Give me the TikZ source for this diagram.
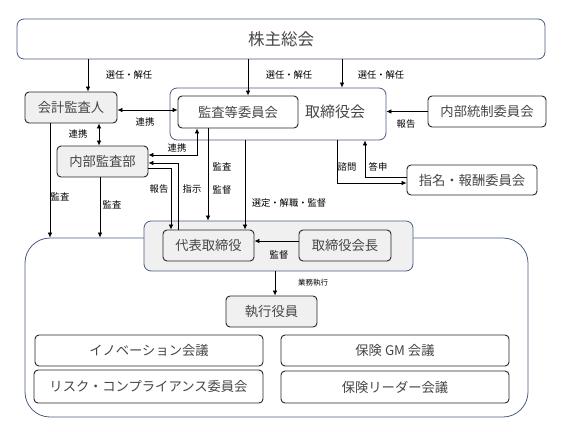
\documentclass[tikz,border=0pt]{standalone}
\usepackage{fontspec}
\setmainfont{Noto Sans CJK JP}
\usetikzlibrary{arrows.meta}
\definecolor{frameblue}{RGB}{76,92,130}
\definecolor{boxgray}{RGB}{240,240,240}
\definecolor{txtgray}{RGB}{70,70,70}
\tikzset{
  box/.style={draw=black!85, line width=0.9pt, rounded corners=4pt, fill=white,
    text=txtgray, inner sep=0pt, font=\fontsize{13.3}{13.3}\selectfont},
  graybox/.style={box, fill=boxgray},
  frame/.style={draw=frameblue, line width=0.8pt, rounded corners=7pt, fill=white, inner sep=0pt},
  lbl/.style={font=\fontsize{9.3}{9.3}\selectfont, inner sep=0pt},
  >={Latex[length=5pt,width=4.5pt]}
}
\begin{document}
\begin{tikzpicture}[x=1pt,y=-1pt,line width=0.7pt]
  \useasboundingbox (0,0) rectangle (567,431);
  % top level
  \node[frame, minimum width=528, minimum height=40, text=txtgray, font=\fontsize{16.5}{16.5}\selectfont] (share) at (281,39) {株主総会};
  \node[graybox, minimum width=92, minimum height=31] (accnt) at (71,107.5) {会計監査人};
  \node[frame, minimum width=216, minimum height=52] (board) at (278,114) {};
  \node[text=txtgray, font=\fontsize{15}{15}\selectfont] (boardtxt) at (335,112) {取締役会};
  \node[box, minimum width=120, minimum height=32] (audit) at (238,112) {監査等委員会};
  \node[box, minimum width=118, minimum height=31] (ictrl) at (487,111.5) {内部統制委員会};
  \node[graybox, minimum width=91, minimum height=31] (intaud) at (102.5,161.5) {内部監査部};
  \node[box, minimum width=130, minimum height=30] (nomin) at (472,180) {指名・報酬委員会};
  % execution side
  \node[frame, rounded corners=25pt, minimum width=503, minimum height=179] (exec) at (276.5,327.5) {};
  \node[frame, fill=boxgray, minimum width=269, minimum height=50] (rep) at (278.5,246) {};
  \node[graybox, minimum width=91, minimum height=31] (ceo) at (208.5,245.5) {代表取締役};
  \node[graybox, minimum width=92, minimum height=31] (chair) at (345,245.5) {取締役会長};
  \node[graybox, minimum width=91, minimum height=31] (offc) at (271.5,311.5) {執行役員};
  \node[box, minimum width=228, minimum height=31] (innov) at (149,350.5) {イノベーション会議};
  \node[box, minimum width=229, minimum height=33] (risk) at (148.5,386.5) {リスク・コンプライアンス委員会};
  \node[box, minimum width=228, minimum height=31] (gm) at (395,350.5) {保険 GM 会議};
  \node[box, minimum width=228, minimum height=32] (leader) at (395,387) {保険リーダー会議};

  % from the shareholders
  \draw[->] ([xshift=17pt]accnt.north |- share.south) -- ([xshift=17pt]accnt.north);
  \draw[->] ([xshift=10pt]audit.north |- share.south) -- ([xshift=10pt]audit.north);
  \draw[->] ([xshift=64pt]board.north |- share.south) -- ([xshift=64pt]board.north);
  \node[lbl] (sel1) at (129,75) {選任・解任};
  \node[lbl] (sel2) at (289,75) {選任・解任};
  \node[lbl] (sel3) at (381,75) {選任・解任};

  % around the board
  \draw[->] (ictrl.west) -- (ictrl.west -| board.east);
  \node[lbl] (rep1) at (406,124) {報告};
  \draw[<->] ([yshift=-2.5pt]accnt.east) -- ([yshift=-2.5pt]accnt.east -| audit.west);
  \node[lbl] (coop1) at (145,122) {連携};
  \draw[<->] ([xshift=28pt]accnt.south) -- ([xshift=28pt]accnt.south |- intaud.north);
  \node[lbl] (coop2) at (78,134) {連携};
  \draw[<->] ([yshift=6.5pt]intaud.east) -| ([xshift=-41pt]audit.south);
  \node[lbl] (coop3) at (177,148) {連携};
  \draw[->] ([xshift=59pt]board.south) |- ([yshift=-3pt]nomin.west);
  \draw[->] ([yshift=3pt]nomin.west) -| ([xshift=87pt]board.south);
  \node[lbl] (ask) at (347,167) {諮問};
  \node[lbl] (ans) at (378,167) {答申};

  % down to the representative director
  \draw[->] ([xshift=-30.5pt]ceo.north) |- ([yshift=-1.5pt]intaud.east);
  \draw[->] ([yshift=-6.5pt]intaud.east) -| ([xshift=-37.5pt]ceo.north);
  \node[lbl] (rep2) at (159,189) {報告};
  \node[lbl] (order) at (192,189) {指示};
  \draw[->] ([xshift=-30pt]audit.south) -- ([xshift=-30pt]audit.south |- rep.north);
  \node[lbl] (aud1) at (222,167) {監査};
  \node[lbl] (sup1) at (222,190) {監督};
  \draw[->] ([xshift=-33pt]board.south) -- ([xshift=-33pt]board.south |- ceo.north);
  \node[lbl] (appt) at (289,203) {選定・解職・監督};
  \draw[->] ([yshift=4.5pt]chair.west) -- ([yshift=4.5pt]chair.west -| ceo.east);
  \node[lbl] (sup2) at (279,255) {監督};
  \draw[->] ([xshift=-3.5pt]rep.south) -- ([xshift=-3.5pt]rep.south |- offc.north);
  \node[lbl, font=\fontsize{7.5}{7.5}\selectfont] (exe) at (313,283) {業務執行};

  % audits of the execution side
  \draw[->] ([xshift=-21pt]accnt.south) -- ([xshift=-21pt]accnt.south |- exec.north);
  \node[lbl] (aud2) at (60,197) {監査};
  \draw[->] ([xshift=-2.5pt]intaud.south) -- ([xshift=-2.5pt]intaud.south |- exec.north);
  \node[lbl] (aud3) at (112,205) {監査};
\end{tikzpicture}
\end{document}
